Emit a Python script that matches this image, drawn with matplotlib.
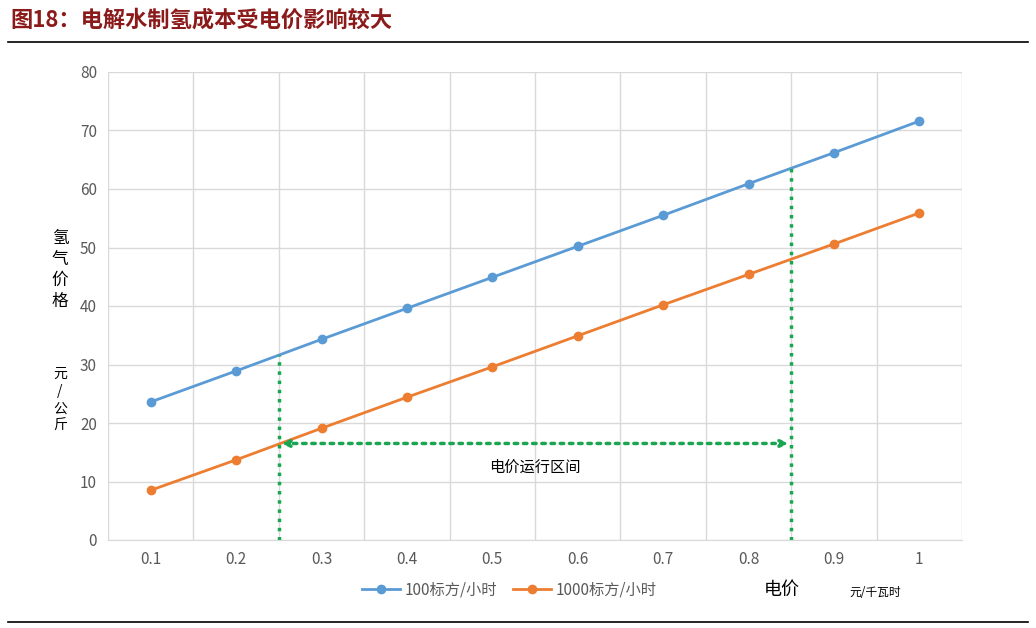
import matplotlib.pyplot as plt
import numpy as np

plt.rcParams['font.family'] = ['Noto Sans CJK SC', 'DejaVu Sans']

price = ['0.1', '0.2', '0.3', '0.4', '0.5', '0.6', '0.7', '0.8', '0.9', '1']
cost_100 = [23.6, 28.9, 34.3, 39.6, 44.9, 50.2, 55.5, 60.9, 66.2, 71.6]
cost_1000 = [8.5, 13.7, 19.1, 24.4, 29.6, 34.9, 40.2, 45.4, 50.6, 55.9]
range_lo, range_hi = 0.25, 0.85

W, H = 1036, 628
fig = plt.figure(figsize=(W / 100, H / 100), dpi=100)
ax = fig.add_axes([108 / W, 1 - 540 / H, (962 - 108) / W, (540 - 72) / H])

x = np.arange(len(price))
blue, orange, green = '#5b9bd5', '#ed7d31', '#1aa650'
ax.plot(x, cost_100, color=blue, lw=2, marker='o', ms=6, label='100标方/小时')
ax.plot(x, cost_1000, color=orange, lw=2, marker='o', ms=6, label='1000标方/小时')

ax.set_xlim(-0.5, len(price) - 0.5)
ax.set_ylim(0, 80)
ax.set_yticks(range(0, 81, 10))
ax.set_xticks(x)
ax.set_xticklabels(price)
ax.set_xticks(np.arange(-0.5, len(price), 1), minor=True)
ax.grid(True, which='minor', axis='x', color='#d9d9d9', lw=1)
ax.grid(True, which='major', axis='y', color='#d9d9d9', lw=1)
ax.tick_params(which='both', length=0, labelsize=11, colors='#595959', pad=8)
for s in ['top', 'right', 'left']:
    ax.spines[s].set_visible(False)
ax.spines['bottom'].set_color('#d9d9d9')

# price range markers: map price value to category position
def pos(p):
    return (p - 0.1) / 0.1

y_lo = np.interp(pos(range_lo), x, cost_100)
y_hi = np.interp(pos(range_hi), x, cost_100)
ax.plot([pos(range_lo)] * 2, [0, y_lo], color=green, lw=2.5, ls=':')
ax.plot([pos(range_hi)] * 2, [0, y_hi], color=green, lw=2.5, ls=':')
ax.annotate('', xy=(pos(range_lo), 16.5), xytext=(pos(range_hi), 16.5),
            arrowprops=dict(arrowstyle='<|-|>', color=green, lw=2.5, ls=':'))
ax.text(4.5, 12.5, '电价运行区间', ha='center', va='center', fontsize=11)

ax.legend(loc='center', bbox_to_anchor=(0.47, -0.107), ncol=2, frameon=False,
          fontsize=11, handlelength=2.5, columnspacing=1.0, handletextpad=0.3,
          labelcolor='#595959')

fig.text(60 / W, 1 - 270 / H, '氢\n气\n价\n格', ha='center', va='center', fontsize=12, linespacing=1.3)
fig.text(60 / W, 1 - 400 / H, '元\n/\n公\n斤', ha='center', va='center', fontsize=10, linespacing=1.3)
fig.text(782 / W, 1 - 590 / H, '电价', ha='center', va='center', fontsize=13)
fig.text(875 / W, 1 - 592 / H, '元/千瓦时', ha='center', va='center', fontsize=8.5)

fig.text(10 / W, 1 - 20 / H, '图18：电解水制氢成本受电价影响较大', ha='left', va='center',
         fontsize=16, fontweight='bold', color='#8b1a1a')
fig.add_artist(plt.Line2D([8 / W, 1028 / W], [1 - 42 / H] * 2, color='black', lw=1.2))
fig.add_artist(plt.Line2D([8 / W, 1028 / W], [1 - 622 / H] * 2, color='black', lw=1.2))

fig.savefig('out.png', dpi=100)
